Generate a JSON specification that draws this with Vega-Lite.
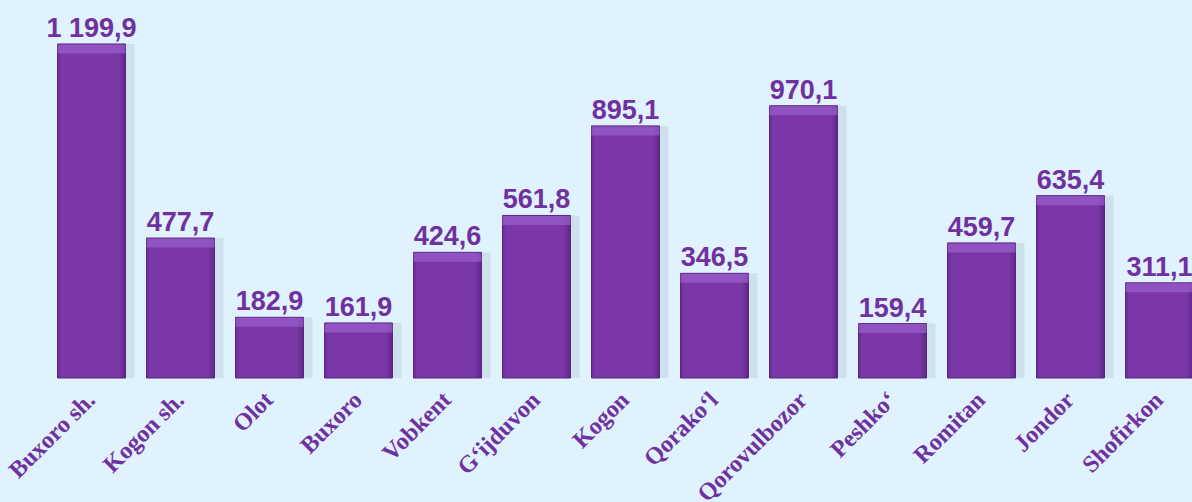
{
  "$schema": "https://vega.github.io/schema/vega-lite/v6.json",
  "autosize": {"type": "none"},
  "width": 1145,
  "height": 378,
  "padding": {"left": 47, "top": 0, "right": 0, "bottom": 124},
  "background": "#dff2fd",
  "config": {"view": {"stroke": null}},
  "data": {"values": [
    {"district": "Buxoro sh.", "value": 1199.9, "label": "1 199,9"},
    {"district": "Kogon sh.", "value": 477.7, "label": "477,7"},
    {"district": "Olot", "value": 182.9, "label": "182,9"},
    {"district": "Buxoro", "value": 161.9, "label": "161,9"},
    {"district": "Vobkent", "value": 424.6, "label": "424,6"},
    {"district": "G‘ijduvon", "value": 561.8, "label": "561,8"},
    {"district": "Kogon", "value": 895.1, "label": "895,1"},
    {"district": "Qorako‘l", "value": 346.5, "label": "346,5"},
    {"district": "Qorovulbozor", "value": 970.1, "label": "970,1"},
    {"district": "Peshko‘", "value": 159.4, "label": "159,4"},
    {"district": "Romitan", "value": 459.7, "label": "459,7"},
    {"district": "Jondor", "value": 635.4, "label": "635,4"},
    {"district": "Shofirkon", "value": 311.1, "label": "311,1"}
  ]},
  "encoding": {
    "x": {
      "field": "district", "type": "nominal", "sort": null,
      "scale": {"range": [0, 1157], "paddingInner": 0.236, "paddingOuter": 0.118},
      "axis": {
        "title": null, "domain": false, "ticks": false,
        "labelAngle": -45, "labelAlign": "right", "labelBaseline": "middle",
        "labelPadding": 18, "labelFont": "Liberation Serif", "labelFontWeight": "bold",
        "labelFontSize": 24, "labelColor": "#7030a0", "labelOverlap": false, "labelLimit": 300
      }
    },
    "y": {
      "field": "value", "type": "quantitative",
      "scale": {"domain": [-43, 1363.5], "nice": false, "zero": false},
      "axis": null
    }
  },
  "layer": [
    {
      "mark": {"type": "bar", "xOffset": 9, "color": "#b9cdd8", "opacity": 0.45, "clip": false},
      "encoding": {"y2": {"datum": -43}}
    },
    {
      "mark": {
        "type": "bar", "clip": false, "stroke": "#5a2580", "strokeWidth": 1,
        "color": {
          "gradient": "linear", "x1": 0, "y1": 0, "x2": 1, "y2": 0,
          "stops": [
            {"offset": 0, "color": "#6c2b98"},
            {"offset": 0.06, "color": "#7b37a8"},
            {"offset": 0.9, "color": "#7b37a8"},
            {"offset": 1, "color": "#5e2787"}
          ]
        }
      },
      "encoding": {"y2": {"datum": -43}}
    },
    {
      "mark": {"type": "tick", "orient": "horizontal", "yOffset": 5, "thickness": 9, "color": "#9a5fcc", "clip": false}
    },
    {
      "mark": {"type": "text", "dy": -7, "baseline": "alphabetic", "font": "Liberation Sans", "fontWeight": "bold", "fontSize": 27, "color": "#7030a0"},
      "encoding": {"text": {"field": "label"}}
    }
  ]
}
